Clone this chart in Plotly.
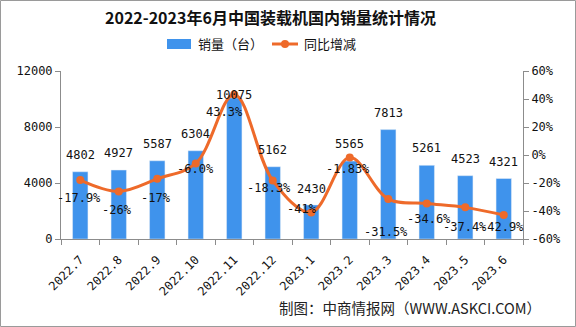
import plotly.graph_objects as go

# Monthly domestic loader sales and year-on-year change
months = ["2022.7", "2022.8", "2022.9", "2022.10", "2022.11", "2022.12",
          "2023.1", "2023.2", "2023.3", "2023.4", "2023.5", "2023.6"]
sales = [4802, 4927, 5587, 6304, 10075, 5162, 2430, 5565, 7813, 5261, 4523, 4321]
yoy_text = ["-17.9", "-26", "-17", "-6.0", "43.3", "-18.3",
            "-41", "-1.83", "-31.5", "-34.6", "-37.4", "-42.9"]
yoy = [float(s) for s in yoy_text]

left_ticks = [0, 4000, 8000, 12000]
right_ticks = [-60, -40, -20, 0, 20, 40, 60]

BLUE = "#3F93EC"
ORANGE = "#EE6A2A"
AXIS = "#8C8C8C"
CJK = "Noto Sans CJK SC"
NUM = "DejaVu Sans Mono"

W, H = 576, 327
L, R, T, B = 61, 53, 71, 88
PW, PH = W - L - R, H - T - B


def px(x):
    return (x - L) / PW


def py(y):
    return (H - B - y) / PH


idx = list(range(len(months)))

fig = go.Figure()
fig.add_trace(go.Bar(
    x=idx, y=sales, name="销量（台）", marker_color=BLUE,
    width=0.4, showlegend=False, hovertext=months, hoverinfo="text+y",
))
fig.add_trace(go.Scatter(
    x=idx, y=yoy, yaxis="y2", name="同比增减", mode="lines+markers",
    line=dict(color=ORANGE, width=3, shape="spline", smoothing=1.0),
    marker=dict(color=ORANGE, size=8), showlegend=False,
    hovertext=months, hoverinfo="text+y",
))

annotations = []
# value labels above the bars
bar_shift = [17, 17, 17, 17, 3, 17, 16, 17, 17, 17, 17, 17]
for i, v, s in zip(idx, sales, bar_shift):
    annotations.append(dict(
        x=i, y=v, xref="x", yref="y", text=str(v), showarrow=False,
        yanchor="middle", yshift=s, font=dict(family=NUM, size=12, color="#111"),
    ))
# percentage labels near the line points
pct_dx = [-1, -2, -1, 0, -10, -4, -9, -2, -2, 2, 0, -2]
pct_dy = [-18, -19, -19, -6, -18, -7, 3, -11, -33, -16, -20, -12]
for i, v, t, dx, dy in zip(idx, yoy, yoy_text, pct_dx, pct_dy):
    annotations.append(dict(
        x=i, y=v, xref="x", yref="y2", text=t + "%", showarrow=False,
        xshift=dx, yshift=dy, yanchor="middle",
        font=dict(family=NUM, size=12, color="#111"),
    ))

# title
annotations.append(dict(
    x=px(270), y=py(17), xref="paper", yref="paper", showarrow=False,
    text="<b>2022-2023年6月中国装载机国内销量统计情况</b>",
    font=dict(family=CJK, size=16, color="#111"), xanchor="center", yanchor="middle",
))
# legend texts
annotations.append(dict(
    x=px(196), y=py(44), xref="paper", yref="paper", showarrow=False,
    text="销量（台）", font=dict(family=CJK, size=13, color="#111"),
    xanchor="left", yanchor="middle",
))
annotations.append(dict(
    x=px(302), y=py(44), xref="paper", yref="paper", showarrow=False,
    text="同比增减", font=dict(family=CJK, size=13, color="#111"),
    xanchor="left", yanchor="middle",
))
# source note
annotations.append(dict(
    x=px(543), y=py(307), xref="paper", yref="paper", showarrow=False,
    text="制图：中商情报网（WWW.ASKCI.COM）", font=dict(family=CJK, size=14.5, color="#222"),
    xanchor="right", yanchor="middle",
))

shapes = [
    # legend swatches
    dict(type="rect", xref="paper", yref="paper", x0=px(167), x1=px(191),
         y0=py(49), y1=py(39), fillcolor=BLUE, line=dict(width=0)),
    dict(type="line", xref="paper", yref="paper", x0=px(272), x1=px(298),
         y0=py(44), y1=py(44), line=dict(color=ORANGE, width=3)),
    dict(type="circle", xref="paper", yref="paper", x0=px(281), x1=px(289),
         y0=py(48), y1=py(40), fillcolor=ORANGE, line=dict(width=0)),
    # outer frame
    dict(type="rect", xref="paper", yref="paper", x0=px(0.5), x1=px(W - 0.5),
         y0=py(H - 0.5), y1=py(0.5), line=dict(color="#9A9A9A", width=1)),
]

fig.update_layout(
    width=W, height=H, margin=dict(l=L, r=R, t=T, b=B, pad=0),
    paper_bgcolor="white", plot_bgcolor="white",
    font=dict(family=NUM, size=12, color="#111"),
    showlegend=False,
    xaxis=dict(
        range=[-0.5, len(months) - 0.5], tickvals=idx, ticktext=months,
        tickangle=-45, ticks="", showline=True, linecolor=AXIS, linewidth=1,
        tickfont=dict(family=NUM, size=12), showgrid=False, zeroline=False,
        ticklabelstandoff=8,
        minor=dict(tickvals=[i - 0.5 for i in range(len(months) + 1)],
                   ticks="outside", ticklen=5, tickcolor=AXIS, showgrid=False),
    ),
    yaxis=dict(
        range=[0, 12000], tickvals=left_ticks, tickformat="d",
        showgrid=False, zeroline=False,
        showline=True, linecolor=AXIS, linewidth=1,
        ticks="outside", ticklen=5, tickcolor=AXIS,
        tickfont=dict(family=NUM, size=12),
    ),
    yaxis2=dict(
        range=[-60, 60], tickvals=right_ticks,
        ticktext=[f"{v}%" for v in right_ticks],
        overlaying="y", side="right", showgrid=False, zeroline=False,
        showline=True, linecolor=AXIS, linewidth=1,
        ticks="outside", ticklen=5, tickcolor=AXIS,
        tickfont=dict(family=NUM, size=12),
    ),
    annotations=annotations, shapes=shapes,
)

fig.write_html("out.html")
